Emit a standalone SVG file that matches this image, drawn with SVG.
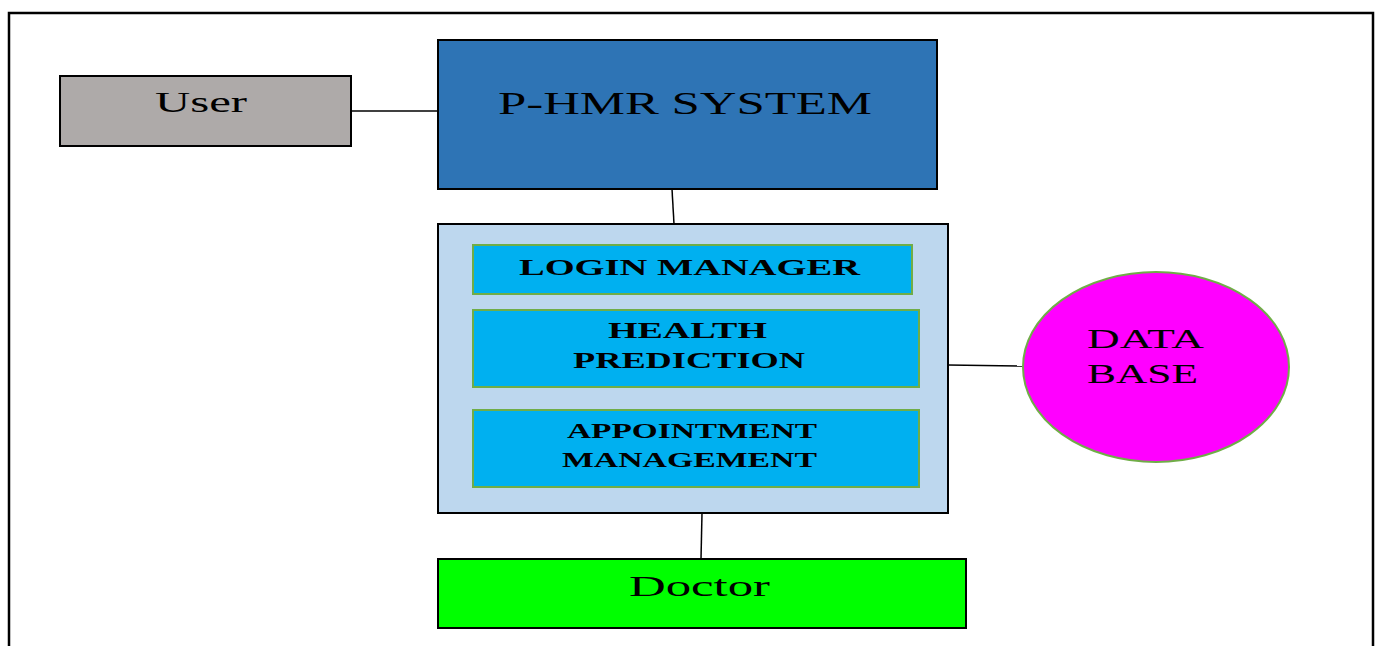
<svg xmlns="http://www.w3.org/2000/svg" width="1379" height="646" viewBox="0 0 1379 646">
<style>
  .box { stroke: #000; stroke-width: 2; }
  .sub { fill: #00b0f0; stroke: #70ad47; stroke-width: 2; }
  .lbl { font-family: "Liberation Serif", "Times New Roman", serif; fill: #000; }
  .b { font-weight: bold; }
  .conn { stroke: #000; stroke-width: 1.5; fill: none; }
</style>
<rect width="1379" height="646" fill="#fff"/>
<path d="M9 646 V13 H1373 V646" fill="none" stroke="#000" stroke-width="2.5"/>
<g id="connectors">
  <line class="conn" x1="351" y1="111" x2="438" y2="111"/>
  <line class="conn" x1="672" y1="189" x2="674" y2="224"/>
  <line class="conn" x1="948" y1="365" x2="1023" y2="366"/>
  <line class="conn" x1="702" y1="513" x2="701" y2="559"/>
</g>
<g id="user">
  <rect class="box" x="60" y="76" width="291" height="70" fill="#aeaaa9"/>
  <text class="lbl" x="155" y="112" font-size="30" textLength="92" lengthAdjust="spacingAndGlyphs">User</text>
</g>
<g id="system">
  <rect class="box" x="438" y="40" width="499" height="149" fill="#2e74b5"/>
  <text class="lbl" x="498" y="114" font-size="31" textLength="374" lengthAdjust="spacingAndGlyphs">P-HMR SYSTEM</text>
</g>
<g id="modules">
  <rect class="box" x="438" y="224" width="510" height="289" fill="#bdd7ee"/>
</g>
<g id="login">
  <rect class="sub" x="473" y="245" width="439" height="49"/>
  <text class="lbl b" x="519" y="275" font-size="24" textLength="341" lengthAdjust="spacingAndGlyphs">LOGIN MANAGER</text>
</g>
<g id="health">
  <rect class="sub" x="473" y="310" width="446" height="77"/>
  <text class="lbl b" x="608" y="338" font-size="23" textLength="159" lengthAdjust="spacingAndGlyphs">HEALTH</text>
  <text class="lbl b" x="573" y="368" font-size="23" textLength="232" lengthAdjust="spacingAndGlyphs">PREDICTION</text>
</g>
<g id="appointment">
  <rect class="sub" x="473" y="410" width="446" height="77"/>
  <text class="lbl b" x="567" y="438" font-size="22" textLength="250" lengthAdjust="spacingAndGlyphs">APPOINTMENT</text>
  <text class="lbl b" x="562" y="467" font-size="22" textLength="255" lengthAdjust="spacingAndGlyphs">MANAGEMENT</text>
</g>
<g id="database">
  <ellipse cx="1156" cy="367" rx="133" ry="95" fill="#ff00ff" stroke="#70ad47" stroke-width="2"/>
  <text class="lbl" x="1087" y="348" font-size="28" textLength="117" lengthAdjust="spacingAndGlyphs">DATA</text>
  <text class="lbl" x="1087" y="383" font-size="28" textLength="111" lengthAdjust="spacingAndGlyphs">BASE</text>
</g>
<g id="doctor">
  <rect class="box" x="438" y="559" width="528" height="69" fill="#00ff00"/>
  <text class="lbl" x="629" y="596" font-size="30" textLength="141" lengthAdjust="spacingAndGlyphs">Doctor</text>
</g>
</svg>
